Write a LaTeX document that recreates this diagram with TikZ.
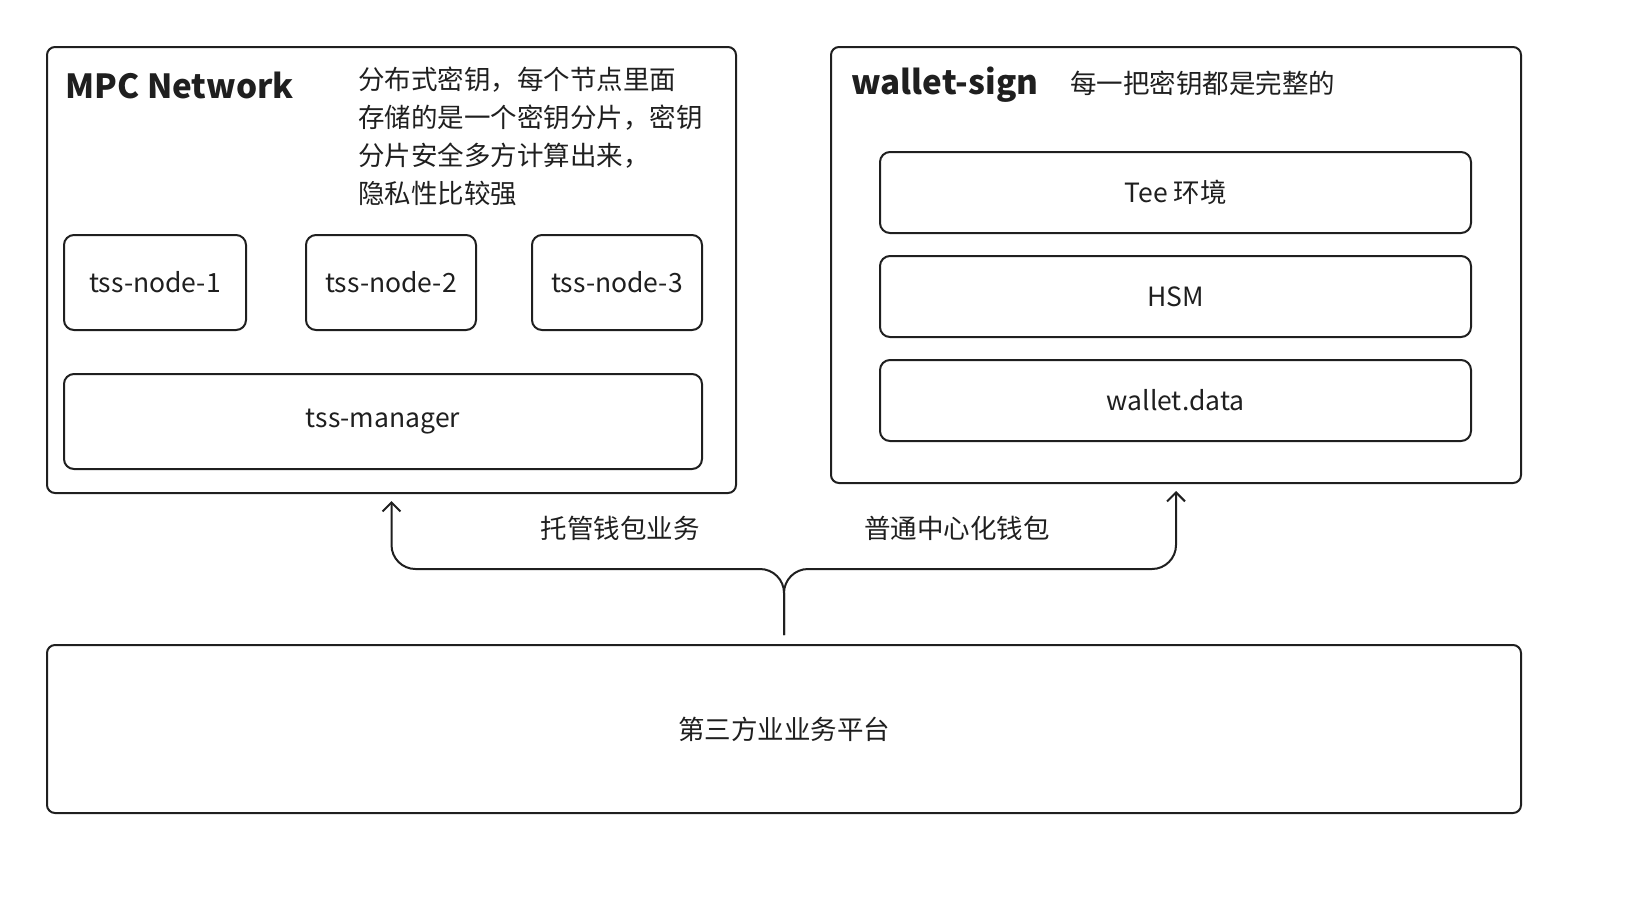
\documentclass[tikz,border=0pt]{standalone}
\usepackage{fontspec}
\setmainfont{Noto Sans CJK SC}
\usetikzlibrary{arrows.meta}
\definecolor{ln}{HTML}{1F1F1F}
\definecolor{tx}{HTML}{1F1F1F}
\begin{document}
\begin{tikzpicture}[x=0.5pt,y=-0.5pt,
  outer/.style={draw=ln,line width=1pt,rounded corners=4pt,inner sep=0pt},
  inbox/.style={draw=ln,line width=1pt,rounded corners=5pt,inner sep=0pt,text=tx,font=\fontsize{13.25}{16}\selectfont},
  title/.style={inner sep=0pt,text=tx,font=\fontsize{16.6}{20}\selectfont\bfseries},
  lbl/.style={inner sep=0pt,text=tx,font=\fontsize{13.25}{19}\selectfont},
  conn/.style={draw=ln,line width=1pt,rounded corners=12pt,-{Straight Barb[length=4.5pt,width=9pt]}}]
\useasboundingbox (0,0) rectangle (1652,906);
% outer boxes
\node[outer,minimum width=344.5pt,minimum height=223pt] (mpc) at (391.5,270) {};
\node[outer,minimum width=345pt,minimum height=218pt] (wal) at (1176,265) {};
\node[outer,minimum width=737pt,minimum height=84pt,text=tx,font=\fontsize{13.25}{16}\selectfont] (bot) at (784,729) {第三方业业务平台};
% titles
\node[title,anchor=west] (t1) at (65,85) {MPC Network};
\node[title,anchor=west] (t2) at (851,85) {wallet-sign};
\node[lbl,anchor=north west,align=left] (d1) at (358,67) {分布式密钥，每个节点里面\\存储的是一个密钥分片，密钥\\分片安全多方计算出来，\\隐私性比较强};
\node[lbl,anchor=west] (d2) at (1070,83) {每一把密钥都是完整的};
% inner boxes
\node[inbox,minimum width=91pt,minimum height=47.5pt] (n1) at (155,282.5) {tss-node-1};
\node[inbox,minimum width=85pt,minimum height=47.5pt] (n2) at (391,282.5) {tss-node-2};
\node[inbox,minimum width=85pt,minimum height=47.5pt] (n3) at (617,282.5) {tss-node-3};
\node[inbox,minimum width=319pt,minimum height=47.5pt] (mgr) at (383,421.5) {tss-manager};
\node[inbox,minimum width=295.5pt,minimum height=40.5pt] (tee) at (1175.5,192.5) {Tee 环境};
\node[inbox,minimum width=295.5pt,minimum height=40.5pt] (hsm) at (1175.5,296.5) {HSM};
\node[inbox,minimum width=295.5pt,minimum height=40.5pt] (wd) at (1175.5,400.5) {wallet.data};
% connectors
\coordinate (src) at ([yshift=4.5pt]bot.north);
\coordinate (hl) at (0,569);
\draw[conn] (src) -- (src |- hl) -| ([yshift=-3.5pt]mpc.south);
\draw[conn] (src) -- (src |- hl) -| ([yshift=-3.5pt]wal.south);
\node[lbl] (l1) at (620,528) {托管钱包业务};
\node[lbl] (l2) at (957,528) {普通中心化钱包};
\end{tikzpicture}
\end{document}
